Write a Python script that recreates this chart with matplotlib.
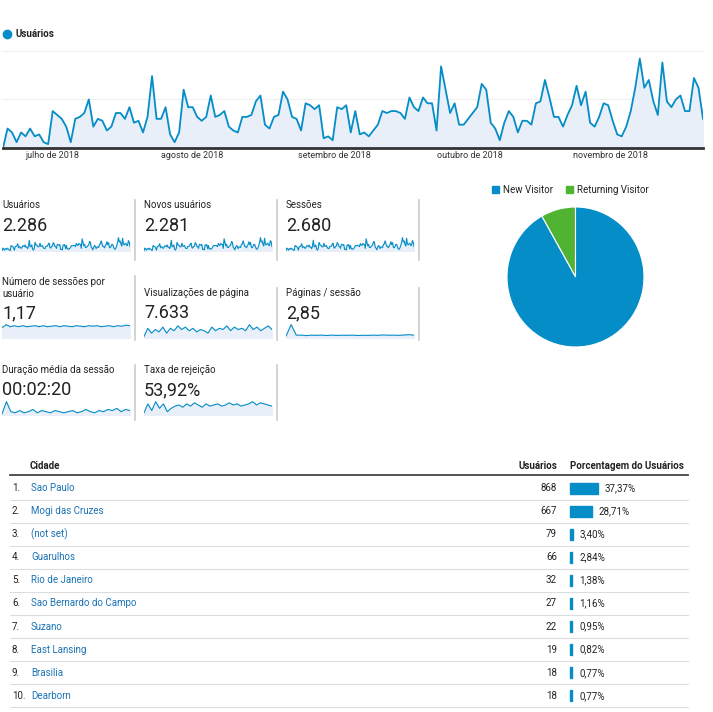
import matplotlib.pyplot as plt
import numpy as np

W, H = 713, 712
BLUE = "#058dc7"
GREEN = "#50b432"
FILL = "#e8eff8"

# daily users (jul - nov 2018)
usuarios = [0, 10, 8, 3, 8, 6, 10, 6, 7, 3, 2, 19, 17, 15, 11, 3, 15, 16, 18, 25,
            11, 15, 14, 9, 11, 18, 18, 15, 21, 13, 14, 8, 16, 37, 15, 15, 21, 7, 3, 8,
            30, 21, 21, 16, 14, 16, 27, 16, 17, 19, 11, 9, 8, 16, 16, 17, 24, 27, 12, 10,
            16, 17, 29, 25, 16, 15, 9, 23, 22, 20, 22, 5, 6, 4, 21, 20, 22, 8,
            19, 7, 8, 6, 9, 12, 19, 18, 19, 19, 18, 15, 26, 21, 19, 26, 23, 23, 9, 42,
            30, 18, 23, 12, 12, 15, 18, 21, 33, 30, 13, 10, 4, 13, 19, 16, 8, 14, 14, 12,
            23, 24, 35, 26, 16, 16, 11, 17, 22, 32, 22, 29, 13, 11, 16, 23, 22, 14, 7, 6,
            11, 19, 31, 46, 31, 35, 24, 17, 44, 24, 21, 25, 27, 19, 19, 36, 31, 15]
month_labels = ["julho de 2018", "agosto de 2018", "setembro de 2018", "outubro de 2018", "novembro de 2018"]
month_x = [52, 192, 334, 470, 610]

cards = [
    ("Usuários", "2.286"), ("Novos usuários", "2.281"), ("Sessões", "2.680"),
    ("Número de sessões por\nusuário", "1,17"), ("Visualizações de página", "7.633"), ("Páginas / sessão", "2,85"),
    ("Duração média da sessão", "00:02:20"), ("Taxa de rejeição", "53,92%"),
]
spark_sess_user = [1.0, 1.3, 1.1, 1.2, 1.1, 1.2, 1.1, 1.15, 1.2, 1.1, 1.2, 1.1, 1.15, 1.2, 1.1, 1.2,
                   1.15, 1.1, 1.2, 1.15, 1.1, 1.2, 1.15, 1.2, 1.1, 1.15, 1.2, 1.1, 1.2, 1.15, 1.25, 1.2]
spark_pageviews = [6, 40, 20, 35, 25, 45, 20, 40, 30, 50, 35, 45, 30, 40, 25, 35, 30, 20, 45, 30,
                   40, 35, 50, 30, 45, 35, 40, 30, 55, 35, 45, 30, 40, 50, 35]
spark_pages = [2, 14, 3, 3, 2.5, 3, 2.8, 3, 2.6, 3, 2.7, 2.9, 2.8, 3, 2.6, 2.9, 2.7, 3, 2.8, 3.2,
               2.9, 3, 2.8, 3.1, 3.5, 3]
spark_duration = [1, 12, 3, 2, 4, 2, 3, 5, 2, 4, 3, 2, 4, 3, 2, 3, 4, 2, 3, 5, 3, 2, 4, 3, 5, 4, 6, 3, 5, 4]
spark_bounce = [2, 10, 4, 12, 6, 10, 3, 6, 8, 9, 7, 10, 8, 11, 9, 7, 10, 8, 9, 10, 8, 9, 11, 9,
                10, 8, 9, 10, 12, 9, 11, 10, 9, 8]

pie_labels = ["New Visitor", "Returning Visitor"]
pie_values = [91.8, 8.2]

cidades = ["Sao Paulo", "Mogi das Cruzes", "(not set)", "Guarulhos", "Rio de Janeiro",
           "Sao Bernardo do Campo", "Suzano", "East Lansing", "Brasilia", "Dearborn"]
cid_usuarios = [868, 667, 79, 66, 32, 27, 22, 19, 18, 18]
cid_pct = [37.37, 28.71, 3.40, 2.84, 1.38, 1.16, 0.95, 0.82, 0.77, 0.77]

fig = plt.figure(figsize=(W / 100, H / 100), dpi=100)
plt.rcParams['font.family'] = ['Roboto', 'DejaVu Sans']


def px_axes(x, y, w, h):
    return fig.add_axes([x / W, 1 - (y + h) / H, w / W, h / H])


base = px_axes(0, 0, W, H)
base.set_xlim(0, W)
base.set_ylim(H, 0)
base.axis('off')

# main line chart
base.plot([7], [34], 'o', color=BLUE, ms=6)
base.text(15, 34, "Usuários", fontsize=7, fontweight='bold', va='center', color='#222')
ax = px_axes(3, 45, 700, 103)
x = np.arange(len(usuarios))
ax.plot(x, usuarios, color=BLUE, lw=1.3)
ax.fill_between(x, usuarios, color=FILL)
ax.set_xlim(0, len(usuarios) - 1)
ax.set_ylim(0, 53)
for s in ['top', 'right', 'left']:
    ax.spines[s].set_visible(False)
ax.spines['bottom'].set_linewidth(2)
ax.spines['bottom'].set_color('#333')
ax.set_xticks([])
ax.set_yticks([])
for v in [25, 50]:
    ax.axhline(v, color='#eeeeee', lw=0.8, zorder=0)
base.text(4, 51, "50", fontsize=6.5, color='#444', va='center')
base.text(4, 103, "25", fontsize=6.5, color='#444', va='center')
for lab, mx in zip(month_labels, month_x):
    base.text(mx, 156, lab, fontsize=6.5, color='#333', ha='center', va='center')

# scorecards
sparks = [usuarios, usuarios, usuarios, spark_sess_user, spark_pageviews, spark_pages,
          spark_duration, spark_bounce]
col_x = [2, 144, 286]
label_y = [205, 205, 205, 282, 293, 293, 370, 370]
value_y = [226, 226, 226, 313, 313, 313, 390, 390]
sep = [(200, 260), (200, 260), (200, 260), (276, 340), (288, 340), (288, 340), (365, 420), (365, 420)]
for i, ((lab, val), sp) in enumerate(zip(cards, sparks)):
    cx = col_x[i % 3]
    base.text(cx, label_y[i] - 5, lab, fontsize=7, color='#222', va='top', linespacing=1.3)
    vy = value_y[i]
    base.text(cx, vy, val, fontsize=13, color='#222', va='center')
    sax = px_axes(cx, vy + 11, 128, 14)
    sx = np.arange(len(sp))
    sax.plot(sx, sp, color=BLUE, lw=0.8)
    sax.fill_between(sx, sp, color=FILL)
    sax.set_xlim(0, len(sp) - 1)
    sax.set_ylim(0, max(sp) * 1.05)
    sax.axis('off')
    base.plot([cx + 133, cx + 133], sep[i], color='#cccccc', lw=1.2)

# pie
base.add_patch(plt.Rectangle((492, 186), 7, 7, color=BLUE))
base.text(503, 190, pie_labels[0], fontsize=7, va='center', color='#222')
base.add_patch(plt.Rectangle((566, 186), 7, 7, color=GREEN))
base.text(577, 190, pie_labels[1], fontsize=7, va='center', color='#222')
pax = px_axes(507, 207, 137, 140)
pax.pie(pie_values[::-1], colors=[GREEN, BLUE], startangle=90, counterclock=True,
        wedgeprops=dict(edgecolor='white', linewidth=0.8))
pax.set_xlim(-1, 1)
pax.set_ylim(-1, 1)
pax.set_aspect('auto')
base.text(561, 224, "8,2%", fontsize=5, color='white', ha='center', va='center')
base.text(575, 333, "91,8%", fontsize=5, color='white', ha='center', va='center')

# table
base.text(30, 466, "Cidade", fontsize=7, fontweight='bold', va='center', color='#222')
base.text(557, 466, "Usuários", fontsize=7, fontweight='bold', va='center', ha='right', color='#222')
base.text(570, 466, "Porcentagem do Usuários", fontsize=7, fontweight='bold', va='center', color='#222')
base.plot([10, 688], [475, 475], color='#444', lw=1.3)
for i, (c, u, p) in enumerate(zip(cidades, cid_usuarios, cid_pct)):
    y = 488 + i * 23.1
    bw = max(28 * p / cid_pct[0], 2)
    base.text(12, y, f"{i + 1}.", fontsize=7, va='center', color='#222')
    base.text(31, y, c, fontsize=7, va='center', color='#1a73b5')
    base.text(557, y, str(u), fontsize=7, va='center', ha='right', color='#222')
    base.add_patch(plt.Rectangle((570, y - 5.5), bw, 11, color=BLUE))
    base.text(570 + bw + 7, y, f"{p:.2f}%".replace('.', ','), fontsize=7, va='center', color='#222')
    base.plot([10, 688], [y + 11.5, y + 11.5], color='#dddddd', lw=0.8)

fig.savefig('out.png', dpi=100, facecolor='white')
